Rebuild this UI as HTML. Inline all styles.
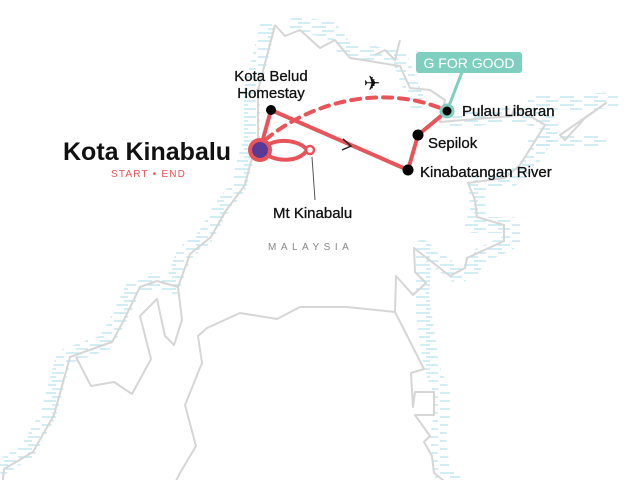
<!DOCTYPE html>
<html><head><meta charset="utf-8"><style>
html,body{margin:0;padding:0;background:#fff;width:640px;height:480px;overflow:hidden;}
svg{display:block;font-family:"Liberation Sans",sans-serif;}
</style></head><body>
<svg width="640" height="480" viewBox="0 0 640 480" xmlns="http://www.w3.org/2000/svg">
<defs>
<pattern id="h" width="24" height="8" patternUnits="userSpaceOnUse">
<line x1="0" y1="1" x2="14" y2="1" stroke="#b3e1ec" stroke-width="1.2"/>
<line x1="10" y1="5" x2="22" y2="5" stroke="#b3e1ec" stroke-width="1.2"/>
</pattern>
</defs>
<g fill="none" stroke="url(#h)" stroke-width="16" stroke-linejoin="round" transform="translate(-6,0)">
<path d="M275,22 L258,90 L258,140 L250,165 L245,185 L225,212 L211,237 L190,254 L178,287 L157,281 L140,287 L124,320 L112,342 L70,357 L54,415 L33,452 L4,469"/>
<path d="M290,30 L330,35 L345,55 L400,65 L410,90 L420,115" transform="translate(6,-6)"/>
</g>
<g fill="none" stroke="url(#h)" stroke-width="16" stroke-linejoin="round" transform="translate(8,0)">
<path d="M440,120 L512,114 L545,125 L520,165 L505,178 L468,183 L470,210 L465,225 L504,225 L504,241 L467,258 L465,268 L450,276 L414,248 L415,272 L413,295 L424,369 L434,392 L434,415 L430,436 L434,473 L471,502 L419,514 L415,531 L450,547"/>
<path d="M520,105 L610,100" stroke-width="16"/>
<path d="M520,140 L600,140" stroke-width="12"/>
</g>
<g fill="none" stroke="#d6d6d6" stroke-width="2" stroke-linejoin="round">
<path d="M275,25 L258,90 L258,140 L250,165 L245,185 L225,212 L211,237 L190,254 L178,287 L157,281 L140,287 L124,320 L112,342 L70,357 L54,415 L33,452 L4,469 L2,489"/>
<path d="M178,287 L182,320 L174,345 L165,336 L157,299 L140,316 L151,359 L132,394 L114,382 L91,386 L76,357"/>
<path d="M395,312 L347,307 L300,307 L277,319 L240,313 L207,328 L198,336 L202,363 L185,405 L196,446 L180,473 L174,485 L191,489 L185,500"/>
<path d="M395,312 L396,276 L413,295 L426,283 L415,272 L414,248 L450,276 L465,268 L467,258 L504,241 L504,225 L477,217 L475,200 L468,183 L505,178 L520,165 L545,125 L525,113 L515,106 L512,116 L440,122 L445,100 L430,90 L410,88 L400,66 L350,58 L335,40 L320,48 L300,30 L285,36 L275,25"/>
<path d="M395,312 L424,369 L411,373 L413,407 L415,392 L434,392 L434,415 L415,415 L430,436 L424,442 L432,456 L434,473 L471,502 L419,514 L415,531 L450,547"/>
<path d="M560,135 L606,103 L585,118 L565,140 Z"/>
<path d="M400,40 L395,60 L385,50 L375,55"/>
</g>
<g fill="none" stroke="#e8545a" stroke-width="4" stroke-linecap="round" stroke-linejoin="round">
<path d="M260,150 L271,110 L408,170 L418,135 L447,111"/>
<path d="M260,150 C275,136 300,140 307,150 C300,162 275,164 260,150"/>
<path d="M265,140 C320,95 390,88 440,108" stroke-dasharray="9,7"/>
</g>
<path d="M343,139 L351,146 L342,150" fill="none" stroke="#222" stroke-width="1.5"/>
<line x1="447" y1="111" x2="462" y2="72" stroke="#7fcfc0" stroke-width="3"/>
<rect x="416" y="52" width="106" height="21" rx="3" fill="#7fcfc0"/>
<text x="469" y="68" font-size="14" fill="#fff" text-anchor="middle">G FOR GOOD</text>
<line x1="312" y1="157" x2="315" y2="200" stroke="#555" stroke-width="1"/>
<circle cx="310" cy="150" r="4" fill="#fff" stroke="#e8545a" stroke-width="2.5"/>
<circle cx="260" cy="150" r="10" fill="#5b3a96" stroke="#e8545a" stroke-width="4"/>
<circle cx="271" cy="110" r="5" fill="#000"/>
<circle cx="447" cy="111" r="6" fill="#000" stroke="#7fcfc0" stroke-width="3"/>
<circle cx="418" cy="135" r="5.5" fill="#000"/>
<circle cx="408" cy="170" r="5.5" fill="#000"/>
<text x="372" y="90" font-size="20" text-anchor="middle" fill="#111">✈</text>
<g fill="#111" font-size="15" stroke="#111" stroke-width="0.3">
<text x="271" y="81" text-anchor="middle">Kota Belud</text>
<text x="271" y="98" text-anchor="middle">Homestay</text>
<text x="462" y="116">Pulau Libaran</text>
<text x="428" y="148">Sepilok</text>
<text x="420" y="177">Kinabatangan River</text>
<text x="273" y="218">Mt Kinabalu</text>
</g>
<text x="63" y="160" font-size="25" font-weight="bold" fill="#111">Kota Kinabalu</text>
<text x="111" y="177" font-size="10" fill="#e8545a" letter-spacing="1.2">START • END</text>
<text x="268" y="250" font-size="10" fill="#888" letter-spacing="4.5">MALAYSIA</text>
</svg>
</body></html>
